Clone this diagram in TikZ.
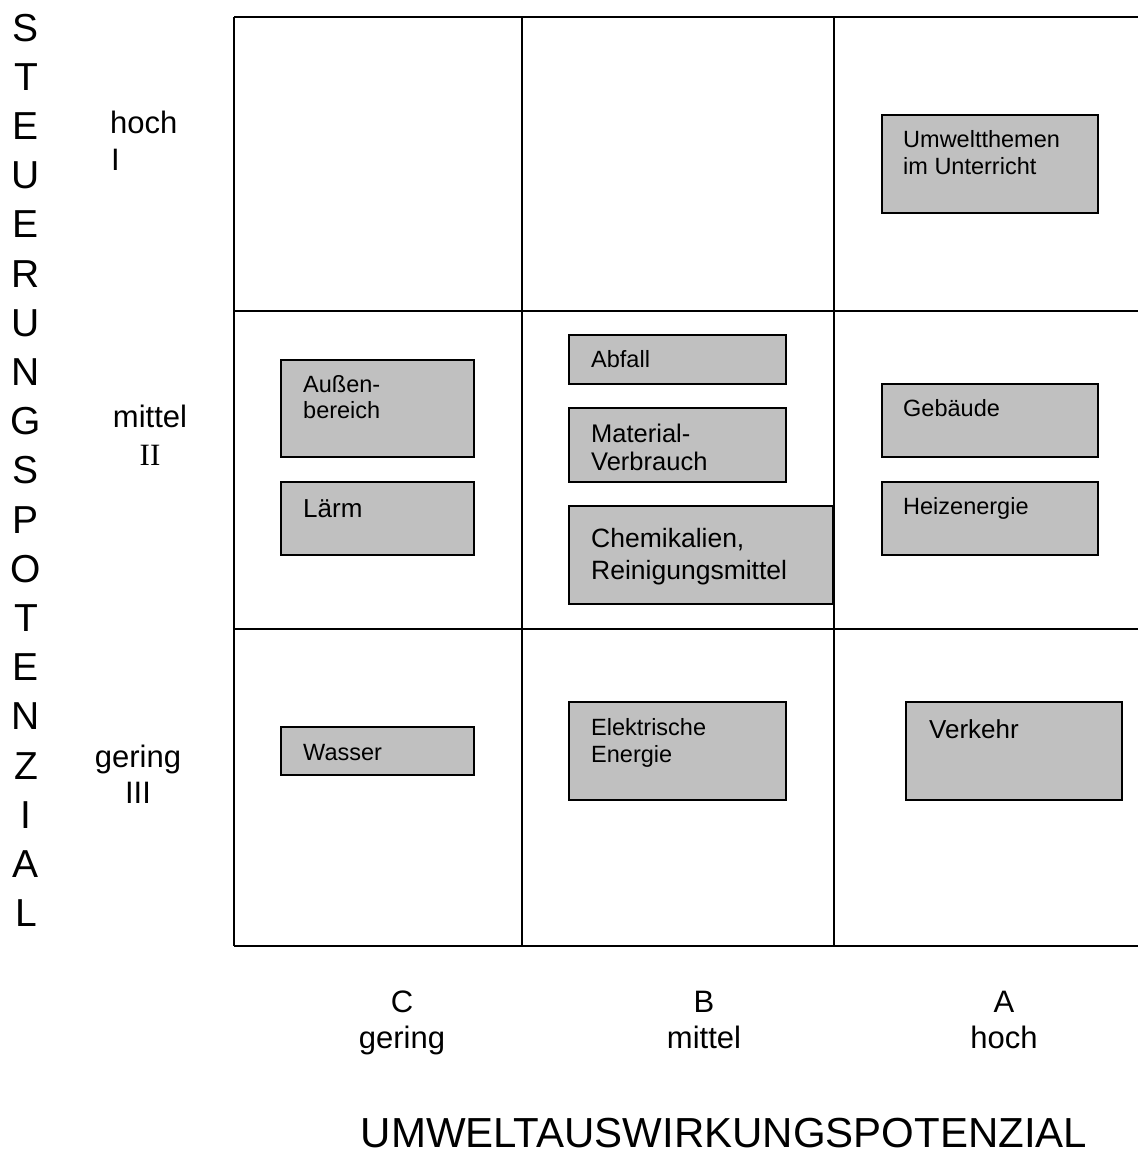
\documentclass[tikz,border=0pt]{standalone}
\usepackage{fontspec}
\setmainfont{Liberation Sans}
\newfontfamily\serifface{Liberation Serif}
\usetikzlibrary{calc}
\newcommand\myfs[1]{\fontsize{#1}{#1}\selectfont}
\definecolor{boxgray}{HTML}{C0C0C0}
\tikzset{
  gridline/.style={line width=2pt, black},
  itembox/.style={draw=black, line width=2pt, fill=boxgray},
  itemtext/.style={anchor=base west, inner sep=0pt, font=\myfs{23.5}},
  itemtextL/.style={anchor=base west, inner sep=0pt, font=\myfs{26}},
  axisletter/.style={anchor=base, inner sep=0pt, font=\myfs{39}},
  levellabel/.style={anchor=base, inner sep=0pt, font=\myfs{31}},
}
\begin{document}
\begin{tikzpicture}[x=1pt,y=-1pt]
\useasboundingbox (0,0) rectangle (1138,1175);
% grid
\draw[gridline] (234,17) -- (1138,17);
\draw[gridline] (234,311) -- (1138,311);
\draw[gridline] (234,629) -- (1138,629);
\draw[gridline] (234,946) -- (1138,946);
\draw[gridline] (234,17) -- (234,946);
\draw[gridline] (522,17) -- (522,946);
\draw[gridline] (834,17) -- (834,946);
% boxes
\draw[itembox] (882,115) rectangle (1098,213);
\draw[itembox] (281,360) rectangle (474,457);
\draw[itembox] (281,482) rectangle (474,555);
\draw[itembox] (569,335) rectangle (786,384);
\draw[itembox] (569,408) rectangle (786,482);
\draw[itembox] (569,506) rectangle (833,604);
\draw[itembox] (882,384) rectangle (1098,457);
\draw[itembox] (882,482) rectangle (1098,555);
\draw[itembox] (281,727) rectangle (474,775);
\draw[itembox] (569,702) rectangle (786,800);
\draw[itembox] (906,702) rectangle (1122,800);
% box texts
\node[itemtext] (t1a) at (903,147) {Umweltthemen};
\node[itemtext] (t1b) at (903,174) {im Unterricht};
\node[itemtext] (t2a) at (303,392) {Außen-};
\node[itemtext] (t2b) at (303,418) {bereich};
\node[itemtextL] (t3) at (303,517) {Lärm};
\node[itemtext] (t4) at (591,367) {Abfall};
\node[itemtext, font=\myfs{25.5}] (t5a) at (591,442) {Material-};
\node[itemtext, font=\myfs{25.5}] (t5b) at (591,470) {Verbrauch};
\node[itemtext, font=\myfs{26.5}] (t6a) at (591,547) {Chemikalien,};
\node[itemtext, font=\myfs{26.5}] (t6b) at (591,579) {Reinigungsmittel};
\node[itemtext] (t7) at (903,416) {Gebäude};
\node[itemtext] (t8) at (903,514) {Heizenergie};
\node[itemtext] (t9) at (303,760) {Wasser};
\node[itemtext] (t10a) at (591,735) {Elektrische};
\node[itemtext] (t10b) at (591,762) {Energie};
\node[itemtextL] (t11) at (929,738) {Verkehr};
% vertical axis title
\foreach \ch [count=\i from 0] in {S,T,E,U,E,R,U,N,G,S,P,O,T,E,N,Z,I,A,L}{
  \node[axisletter] (v\i) at (26,{41+\i*49.2}) {\ch};
}
% row labels
\node[levellabel, anchor=base west] (r1a) at (110,133) {hoch};
\node[levellabel, anchor=base west] (r1b) at (111,170) {I};
\node[levellabel] (r2a) at (150,427) {mittel};
\node[levellabel, font=\serifface\myfs{31}] (r2b) at (150,465) {II};
\node[levellabel] (r3a) at (138,767) {gering};
\node[levellabel] (r3b) at (138,803) {III};
% column labels
\node[levellabel] (c1a) at (402,1012) {C};
\node[levellabel] (c1b) at (402,1048) {gering};
\node[levellabel] (c2a) at (704,1012) {B};
\node[levellabel] (c2b) at (704,1048) {mittel};
\node[levellabel] (c3a) at (1004,1012) {A};
\node[levellabel] (c3b) at (1004,1048) {hoch};
% horizontal axis title
\node[anchor=base, inner sep=0pt, font=\myfs{42}] (htitle) at (724,1147) {UMWELTAUSWIRKUNGSPOTENZIAL};
\end{tikzpicture}
\end{document}
